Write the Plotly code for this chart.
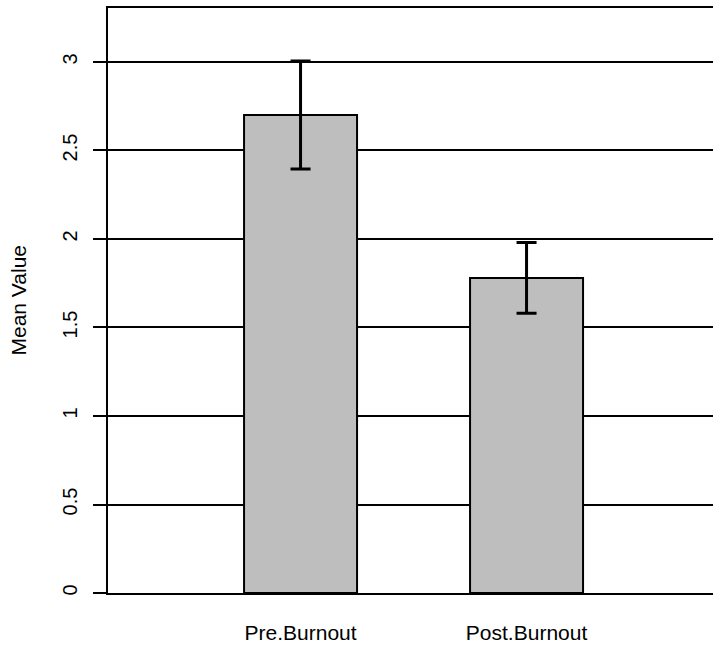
import plotly.graph_objects as go

categories = ["Pre.Burnout", "Post.Burnout"]
means = [2.70, 1.78]
errors = [0.305, 0.20]
y_ticks = [0, 0.5, 1, 1.5, 2, 2.5, 3]
y_tick_labels = ["0", "0.5", "1", "1.5", "2", "2.5", "3"]

x_pos = [0, 2]

fig = go.Figure()
fig.add_trace(go.Bar(
    x=x_pos, y=means, width=1.0,
    marker=dict(color="#BEBEBE", line=dict(color="black", width=2)),
    error_y=dict(type="data", array=errors, visible=True, color="black", thickness=3, width=10),
    showlegend=False,
    hoverinfo="skip",
))

family = "Liberation Sans, Arial, Helvetica, sans-serif"
font = dict(family=family, size=20, color="black")
font_x = dict(family=family, size=21, color="black")

fig.update_layout(
    width=713, height=646,
    margin=dict(l=108, r=0, t=8, b=53),
    plot_bgcolor="white", paper_bgcolor="white",
    font=font,
    xaxis=dict(
        range=[-1.704, 3.65], tickvals=x_pos, ticktext=categories,
        showgrid=False, zeroline=False, ticks="", ticklen=0,
        showline=True, linecolor="black", linewidth=2, mirror=True,
        tickfont=font_x, ticklabelstandoff=20,
    ),
    yaxis=dict(
        range=[0, 3.305], tickvals=y_ticks, ticktext=y_tick_labels,
        tickangle=-90, ticks="outside", ticklen=13, tickwidth=2, tickcolor="black",
        showgrid=True, gridcolor="black", gridwidth=2, zeroline=False,
        showline=True, linecolor="black", linewidth=2,
        tickfont=font, ticklabelstandoff=8,
    ),
    annotations=[dict(
        text="Mean Value", xref="paper", yref="paper",
        x=(18 - 108) / 605, y=0.5, xanchor="center", yanchor="middle",
        textangle=-90, showarrow=False, font=font_x,
    )],
)

fig.write_html("out.html", config={"displayModeBar": False},
               post_script="document.body.style.margin='0';")
